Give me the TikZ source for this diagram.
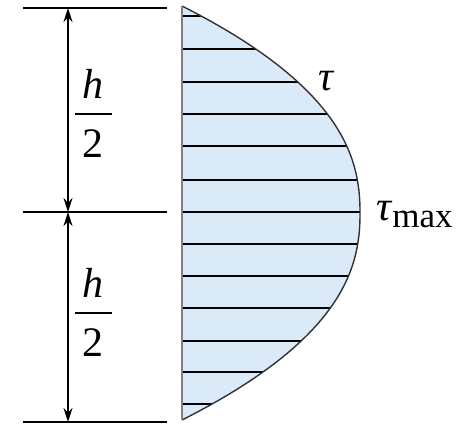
\documentclass[tikz,border=0pt]{standalone}
\usepackage{fontspec}
\setmainfont{Liberation Serif}
\usetikzlibrary{arrows.meta}
\definecolor{fillblue}{RGB}{218,234,248}
\definecolor{edgegray}{RGB}{50,50,50}
\begin{document}
\begin{tikzpicture}[x=0.5pt,y=-0.5pt,
  declare function={px(\t)=182+178*(1-(abs((\t-213)/207))^2.3);},
  dimline/.style={line width=0.9pt},
  dimarrow/.style={line width=0.9pt,{Stealth[length=7pt,width=4.5pt]}-{Stealth[length=7pt,width=4.5pt]}},
  hatch/.style={line width=0.9pt},
  curveline/.style={line width=0.7pt,draw=edgegray},
  axisline/.style={line width=0.8pt,draw=gray},
  fracbar/.style={line width=1.3pt},
  lab/.style={font=\fontsize{21}{25}\selectfont, inner sep=0pt}]
\useasboundingbox (0,0) rectangle (459,425);
% dimension lines
\coordinate (tl) at (23,8);   \coordinate (tr) at (167,8);
\coordinate (ml) at (23,212); \coordinate (mr) at (167,212);
\coordinate (bl) at (23,422); \coordinate (br) at (167,422);
\coordinate (a1) at (68,8); \coordinate (a2) at (68,212); \coordinate (a3) at (68,422);
\draw[dimline] (tl) -- (tr);
\draw[dimline] (ml) -- (mr);
\draw[dimline] (bl) -- (br);
\draw[dimarrow] (a1) -- (a2);
\draw[dimarrow] (a2) -- (a3);
% stress profile
\fill[fillblue] (182,6) -- plot[domain=6:420,samples=100] ({px(\x)},\x) -- cycle;
\foreach \yy in {16,49,82,114,146,180,212,244,276,308,341,372,404}
  \draw[hatch] (182,\yy) -- ({px(\yy)},\yy);
\draw[curveline] plot[domain=6:420,samples=100] ({px(\x)},\x);
\draw[axisline] (182,6) -- (182,420);
% labels
\node[lab, anchor=base] (h1) at (93,98) {\itshape h};
\coordinate (b1l) at (75,114); \coordinate (b1r) at (112,114);
\draw[fracbar] (b1l) -- (b1r);
\node[lab, anchor=base] (d1) at (93,157) {2};
\node[lab, anchor=base] (h2) at (93,297) {\itshape h};
\coordinate (b2l) at (75,313); \coordinate (b2r) at (112,313);
\draw[fracbar] (b2l) -- (b2r);
\node[lab, anchor=base] (d2) at (93,356) {2};
\node[lab, anchor=base west] (tau) at (318,90) {\itshape τ};
\node[lab, anchor=base west] (taumax) at (376,220) {\itshape τ\kern0.5pt\raisebox{-3.5pt}{\upshape\fontsize{17.5}{18}\selectfont max}};
\end{tikzpicture}
\end{document}
